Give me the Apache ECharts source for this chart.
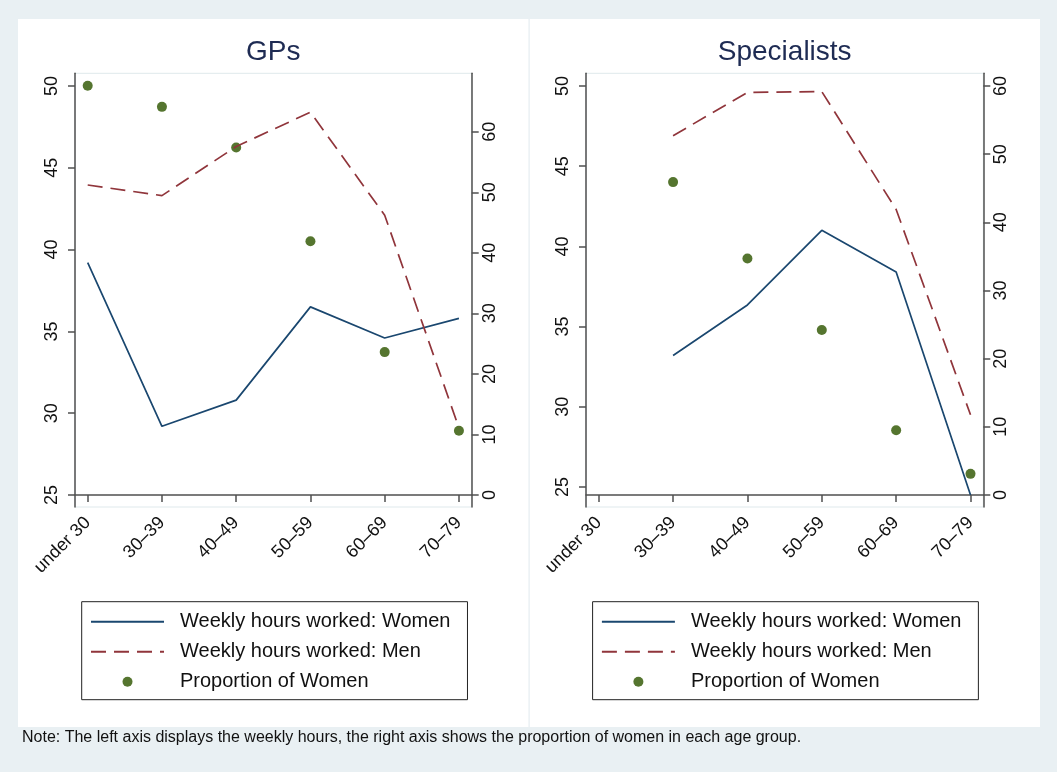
<!DOCTYPE html>
<html>
<head>
<meta charset="utf-8">
<title>Weekly hours and proportion of women by age group</title>
<script src="https://cdn.jsdelivr.net/npm/echarts@6/dist/echarts.min.js"></script>
<style>
    html, body { margin: 0; padding: 0; background: #e9f0f3; }
    #main { width: 1057px; height: 772px; }
</style>
</head>
<body>
<div id="main"></div>
<script>
// categories and values
var ageGroups = ['under 30', '30–39', '40–49', '50–59', '60–69', '70–79'];

var gpWomenHours = [39.2, 29.2, 30.8, 36.5, 34.6, 35.8];
var gpMenHours = [43.95, 43.3, 46.3, 48.4, 42.1, 29.1];
var gpWomenShare = [67.6, 64.1, 57.4, 41.9, 23.6, 10.6];

var specWomenHours = [null, 33.2, 36.35, 41.0, 38.4, 24.5];
var specMenHours = [null, 46.9, 49.6, 49.65, 42.3, 29.5];
var specWomenShare = [null, 45.9, 34.7, 24.2, 9.5, 3.1];

var hoursTicks = [25, 30, 35, 40, 45, 50];
var shareTicks = [0, 10, 20, 30, 40, 50, 60];
var catTicks = [0, 1, 2, 3, 4, 5];

var seriesNames = ['Weekly hours worked: Women', 'Weekly hours worked: Men', 'Proportion of Women'];

var FONT = '"Liberation Sans", Arial, sans-serif';
var navy = '#1a476f', maroon = '#90353b', green = '#55752f', axisGray = '#505050';

var myChart = echarts.init(document.getElementById('main'));

function pairs(arr) {
    var out = [];
    for (var i = 0; i < arr.length; i++) {
        out.push([i, arr[i]]);
    }
    return out;
}

function xAxisFor(gridIndex) {
    return {
        type: 'value', gridIndex: gridIndex,
        min: -0.171, max: 5.172,
        axisLine: { show: true, lineStyle: { color: axisGray, width: 1.5 } },
        axisTick: { show: true, customValues: catTicks, length: 7, lineStyle: { color: axisGray, width: 1.5 } },
        axisLabel: {
            customValues: catTicks, rotate: 45, margin: 13,
            fontSize: 18, fontFamily: FONT, color: '#111',
            formatter: function (v) { return ageGroups[v]; }
        },
        splitLine: { show: false }
    };
}

function yAxisFor(gridIndex, position, min, max, ticks, margin) {
    return {
        type: 'value', gridIndex: gridIndex, position: position,
        min: min, max: max,
        axisLine: { show: true, onZero: false, lineStyle: { color: axisGray, width: 1.5 } },
        axisTick: { show: true, customValues: ticks, length: 7, lineStyle: { color: axisGray, width: 1.5 } },
        axisLabel: { customValues: ticks, rotate: 90, margin: margin, fontSize: 18, fontFamily: FONT, color: '#111' },
        splitLine: { show: false }
    };
}

function legendFor(left) {
    return {
        left: left, top: 601.7,
        orient: 'vertical',
        selectedMode: false,
        itemWidth: 73, itemHeight: 10, itemGap: 10,
        padding: [10, 17, 8, 8.3],
        borderColor: '#222', borderWidth: 1, backgroundColor: '#fff',
        textStyle: { fontSize: 20, fontFamily: FONT, color: '#111', padding: [0, 0, 0, 11] },
        data: [
            { name: seriesNames[0], itemStyle: { opacity: 0 } },
            { name: seriesNames[1], itemStyle: { opacity: 0 } },
            { name: seriesNames[2], icon: 'circle' }
        ]
    };
}

function panelSeries(xi, yLeft, yRight, women, men, share) {
    return [
        {
            name: seriesNames[0], type: 'line', xAxisIndex: xi, yAxisIndex: yLeft,
            data: pairs(women), symbol: 'none', animation: false,
            lineStyle: { color: navy, width: 1.7 }, itemStyle: { color: navy }
        },
        {
            name: seriesNames[1], type: 'line', xAxisIndex: xi, yAxisIndex: yLeft,
            data: pairs(men), symbol: 'none', animation: false,
            lineStyle: { color: maroon, width: 1.7, type: [15, 8] }, itemStyle: { color: maroon }
        },
        {
            name: seriesNames[2], type: 'scatter', xAxisIndex: xi, yAxisIndex: yRight,
            data: pairs(share), symbol: 'circle', symbolSize: 10, animation: false,
            itemStyle: { color: green, opacity: 1 }
        }
    ];
}

var option = {
    backgroundColor: '#e9f0f3',
    animation: false,
    graphic: [
        { type: 'rect', z: -100, shape: { x: 18, y: 19, width: 1022, height: 708 }, style: { fill: '#fff' } },
        { type: 'rect', z: -99, shape: { x: 528.3, y: 19, width: 1.7, height: 708 }, style: { fill: '#edf2f5' } },
        { type: 'text', x: 273.3, y: 52, style: { text: 'GPs', fontSize: 28, fontFamily: FONT, fill: '#1e2b53', align: 'center', verticalAlign: 'middle' } },
        { type: 'text', x: 784.7, y: 52, style: { text: 'Specialists', fontSize: 28, fontFamily: FONT, fill: '#1e2b53', align: 'center', verticalAlign: 'middle' } },
        { type: 'text', x: 22, y: 737.5, style: { text: 'Note: The left axis displays the weekly hours, the right axis shows the proportion of women in each age group.', fontSize: 16, fontFamily: FONT, fill: '#111', align: 'left', verticalAlign: 'middle' } }
    ],
    grid: [
        { left: 75, top: 73.3, width: 396.7, height: 433.7, show: true, backgroundColor: 'transparent', borderColor: '#dfe9ec', borderWidth: 1 },
        { left: 586, top: 73.3, width: 397.3, height: 433.7, show: true, backgroundColor: 'transparent', borderColor: '#dfe9ec', borderWidth: 1 }
    ],
    xAxis: [xAxisFor(0), xAxisFor(1)],
    yAxis: [
        yAxisFor(0, 'left', 24.267, 50.776, hoursTicks, 14),
        yAxisFor(0, 'right', -1.982, 69.645, shareTicks, 9),
        yAxisFor(1, 'left', 23.753, 50.79, hoursTicks, 14),
        yAxisFor(1, 'right', -1.76, 61.863, shareTicks, 9)
    ],
    legend: [legendFor(81.7), legendFor(592.6)],
    series: panelSeries(0, 0, 1, gpWomenHours, gpMenHours, gpWomenShare)
        .concat(panelSeries(1, 2, 3, specWomenHours, specMenHours, specWomenShare))
};

myChart.setOption(option);
</script>
</body>
</html>
